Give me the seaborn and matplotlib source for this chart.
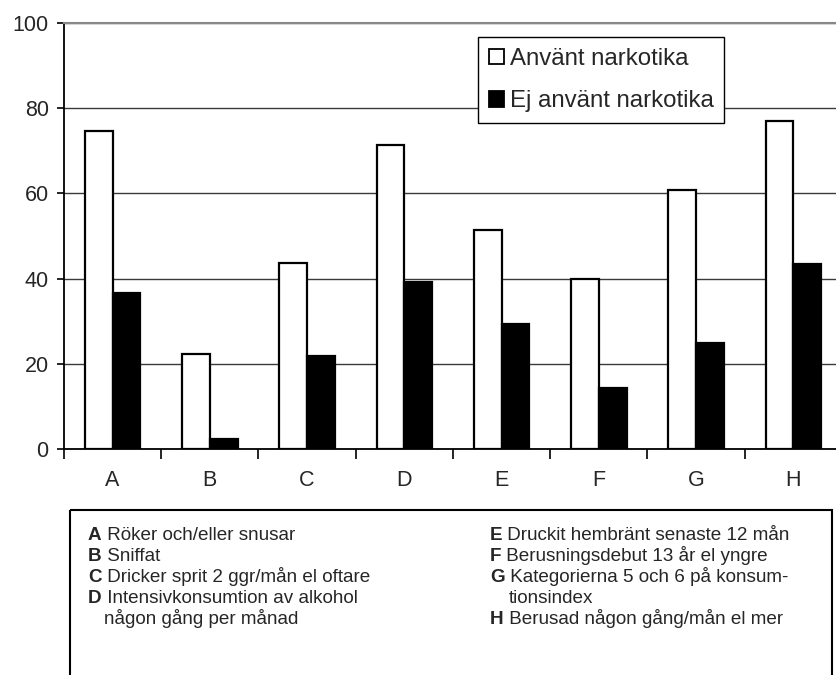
import matplotlib
matplotlib.use("Agg")
import matplotlib.pyplot as plt
import matplotlib.patches as mpatches
from matplotlib.ticker import FixedLocator, NullFormatter
import seaborn as sns
import pandas as pd

categories = ["A", "B", "C", "D", "E", "F", "G", "H"]
series_names = ["Använt narkotika", "Ej använt narkotika"]
used = [74.6, 22.4, 43.7, 71.4, 51.4, 40.0, 60.9, 77.1]
not_used = [36.7, 2.3, 21.9, 39.1, 29.3, 14.4, 24.9, 43.4]
y_ticks = [0, 20, 40, 60, 80, 100]

legend_left = [
    ("A", "Röker och/eller snusar"),
    ("B", "Sniffat"),
    ("C", "Dricker sprit 2 ggr/mån el oftare"),
    ("D", "Intensivkonsumtion av alkohol"),
    ("", "någon gång per månad"),
]
legend_right = [
    ("E", "Druckit hembränt senaste 12 mån"),
    ("F", "Berusningsdebut 13 år el yngre"),
    ("G", "Kategorierna 5 och 6 på konsum-"),
    ("", "tionsindex"),
    ("H", "Berusad någon gång/mån el mer"),
]

df = pd.DataFrame({
    "cat": categories * 2,
    "grp": [series_names[0]] * len(categories) + [series_names[1]] * len(categories),
    "val": used + not_used,
})

sns.set_theme(style="white")
plt.rcParams["font.family"] = ["Liberation Sans", "DejaVu Sans"]

W, H = 837, 675
fig = plt.figure(figsize=(W / 100, H / 100), dpi=100)
ax = fig.add_axes([64 / W, (H - 449) / H, 778 / W, 426 / H])

sns.barplot(data=df, x="cat", y="val", hue="grp", order=categories,
            hue_order=series_names,
            palette={series_names[0]: "white", series_names[1]: "black"},
            edgecolor="black", linewidth=1.6, width=0.57, gap=0,
            saturation=1, ax=ax, legend=False, zorder=3)

ax.set_xlim(-0.5, 7.5)
ax.set_ylim(0, 100)
ax.set_yticks(y_ticks)
ax.set_yticklabels([str(v) for v in y_ticks])
ax.yaxis.grid(True, color="#3a3a3a", linewidth=1.0, zorder=0)
ax.set_axisbelow(True)
ax.set_xlabel("")
ax.set_ylabel("")

# x ticks: marks at category boundaries, labels at centres
ax.xaxis.set_major_locator(FixedLocator([i - 0.5 for i in range(len(categories) + 1)]))
ax.xaxis.set_major_formatter(NullFormatter())
ax.xaxis.set_minor_locator(FixedLocator(list(range(len(categories)))))
ax.set_xticklabels(categories, minor=True)
ax.tick_params(axis="x", which="major", bottom=True, length=7, width=1.2, color="black", direction="out")
ax.tick_params(axis="x", which="minor", bottom=True, length=0, pad=15, labelsize=15.5)
ax.tick_params(axis="y", left=True, length=5, width=1.2, color="black", direction="out", pad=6, labelsize=15.5)

for s in ["left", "bottom"]:
    ax.spines[s].set_color("black")
    ax.spines[s].set_linewidth(1.3)
ax.spines["right"].set_visible(False)
ax.spines["top"].set_color("#888888")
ax.spines["top"].set_linewidth(1.5)

handles = [mpatches.Patch(facecolor="white", edgecolor="black", linewidth=1.3, label=series_names[0]),
           mpatches.Patch(facecolor="black", edgecolor="black", linewidth=1.3, label=series_names[1])]
leg = ax.legend(handles=handles, loc="upper left", bbox_to_anchor=(0.532, 0.967),
                fontsize=17.3, frameon=True, fancybox=False, framealpha=1,
                edgecolor="black", handlelength=0.62, handleheight=0.62,
                handletextpad=0.25, borderpad=0.45, labelspacing=0.85,
                borderaxespad=0)
leg.get_frame().set_linewidth(1.0)
leg.set_zorder(5)

# bottom explanation box
over = fig.add_axes([0, 0, 1, 1])
over.set_axis_off()
over.set_xlim(0, W)
over.set_ylim(H, 0)
over.add_patch(mpatches.Rectangle((70, 510), 832 - 70, 200, facecolor="none",
                                  edgecolor="black", linewidth=1.5, clip_on=False))

line_base = [540, 561, 582, 603, 624]
fs = 13.6

def put(x, y, letter, text, indent):
    if letter:
        t = over.text(x, y, letter, fontsize=fs, fontweight="bold", va="baseline", ha="left")
        over.annotate(" " + text, xy=(1, y), xycoords=(t, "data"), va="baseline",
                      ha="left", fontsize=fs)
    else:
        over.text(x + indent, y, text, fontsize=fs, va="baseline", ha="left")

for (letter, text), y in zip(legend_left, line_base):
    put(88, y, letter, text, 16)
for (letter, text), y in zip(legend_right, line_base):
    put(490, y, letter, text, 19)

fig.savefig("out.png", dpi=100)
